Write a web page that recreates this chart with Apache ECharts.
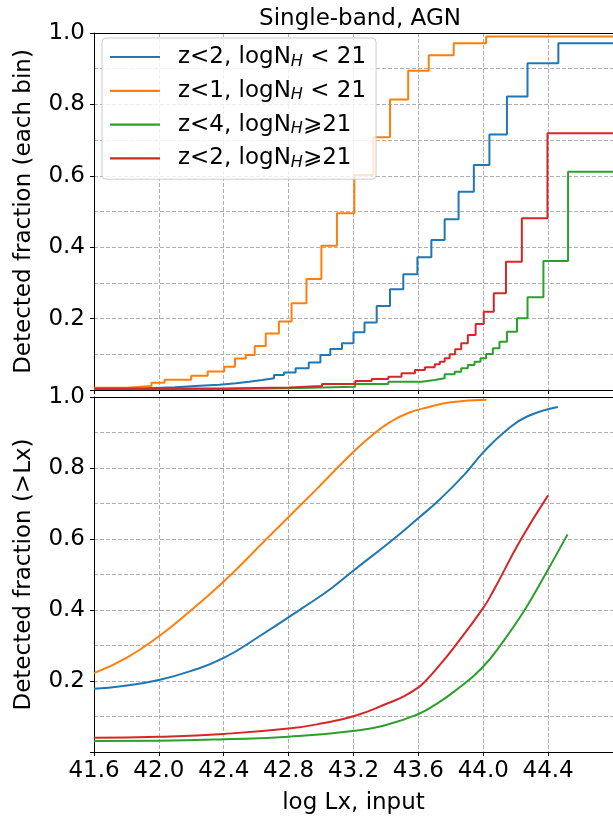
<!DOCTYPE html>
<html><head><meta charset="utf-8">
<script src="https://cdn.jsdelivr.net/npm/echarts@6/dist/echarts.min.js"></script>
<style>html,body{margin:0;padding:0;background:#fff}#c{width:613px;height:816px}</style>
</head><body><div id="c"></div>
<script>
// ---- data ----
const seriesNames = ['z<2, logN_H < 21', 'z<1, logN_H < 21', 'z<4, logN_H⩾21', 'z<2, logN_H⩾21'];
const colors = ['#1f77b4', '#ff7f0e', '#2ca02c', '#d62728'];
const titleText = 'Single-band, AGN';
const xName = 'log Lx, input';
const yNameTop = 'Detected fraction (each bin)';
const yNameBottom = 'Detected fraction (>Lx)';

// top panel: detected fraction per bin (bin edges, fraction in each bin)
const blueBinEdges = [41.6, 41.9, 42.1, 42.25, 42.373, 42.475, 42.556, 42.638, 42.710, 42.771, 42.843, 42.924, 42.996, 43.057, 43.129, 43.200, 43.268, 43.343, 43.425, 43.507, 43.594, 43.680, 43.762, 43.848, 43.942, 44.038, 44.146, 44.273, 44.463, 44.8];
const blueBinFrac = [0.004, 0.008, 0.012, 0.015, 0.019, 0.023, 0.028, 0.033, 0.042, 0.049, 0.061, 0.077, 0.098, 0.115, 0.131, 0.162, 0.189, 0.235, 0.282, 0.324, 0.372, 0.420, 0.478, 0.555, 0.630, 0.716, 0.822, 0.915, 0.971];
const orangeBinEdges = [41.6, 41.8, 41.954, 42.035, 42.199, 42.301, 42.403, 42.469, 42.536, 42.591, 42.659, 42.740, 42.818, 42.910, 43.002, 43.098, 43.205, 43.323, 43.425, 43.537, 43.664, 43.818, 44.018, 44.8];
const orangeBinFrac = [0.006, 0.011, 0.020, 0.029, 0.040, 0.052, 0.065, 0.088, 0.098, 0.123, 0.158, 0.192, 0.243, 0.311, 0.404, 0.495, 0.602, 0.708, 0.814, 0.894, 0.938, 0.971, 0.990];
const greenBinEdges = [41.6, 42.4, 42.80, 43.21, 43.415, 43.62, 43.70, 43.762, 43.824, 43.864, 43.905, 43.946, 43.983, 44.018, 44.059, 44.100, 44.146, 44.208, 44.273, 44.371, 44.523, 44.8];
const greenBinFrac = [0.003, 0.005, 0.009, 0.017, 0.023, 0.028, 0.033, 0.044, 0.051, 0.061, 0.070, 0.079, 0.089, 0.101, 0.117, 0.135, 0.163, 0.201, 0.260, 0.361, 0.611];
const redBinEdges = [41.6, 42.393, 42.802, 43.006, 43.211, 43.312, 43.415, 43.496, 43.579, 43.640, 43.701, 43.732, 43.762, 43.793, 43.827, 43.864, 43.905, 43.953, 44.003, 44.065, 44.140, 44.238, 44.396, 44.8];
const redBinFrac = [0.004, 0.007, 0.011, 0.017, 0.025, 0.031, 0.037, 0.047, 0.056, 0.064, 0.072, 0.079, 0.089, 0.100, 0.114, 0.131, 0.154, 0.185, 0.219, 0.271, 0.359, 0.481, 0.719];

// bottom panel: cumulative detected fraction (>Lx)
const blueCumX = [41.6, 41.78, 42.0, 42.19, 42.4, 42.62, 42.88, 43.06, 43.21, 43.415, 43.59, 43.74, 43.885, 44.0, 44.14, 44.27, 44.46];
const blueCumY = [0.178, 0.186, 0.203, 0.227, 0.265, 0.326, 0.404, 0.460, 0.515, 0.588, 0.655, 0.715, 0.782, 0.844, 0.905, 0.945, 0.972];
const orangeCumX = [41.6, 41.8, 42.0, 42.2, 42.4, 42.659, 42.965, 43.205, 43.312, 43.425, 43.537, 43.66, 43.8, 44.02];
const orangeCumY = [0.222, 0.265, 0.326, 0.400, 0.480, 0.598, 0.737, 0.848, 0.891, 0.929, 0.955, 0.971, 0.985, 0.992];
const greenCumX = [41.6, 42.0, 42.4, 42.8, 43.21, 43.415, 43.59, 43.7, 43.82, 43.99, 44.13, 44.25, 44.365, 44.52];
const greenCumY = [0.031, 0.032, 0.036, 0.043, 0.060, 0.078, 0.105, 0.132, 0.170, 0.236, 0.316, 0.396, 0.486, 0.613];
const redCumX = [41.6, 42.0, 42.4, 42.8, 43.0, 43.21, 43.415, 43.51, 43.6, 43.65, 43.7, 43.82, 44.0, 44.06, 44.23, 44.4];
const redCumY = [0.040, 0.043, 0.051, 0.066, 0.080, 0.102, 0.138, 0.157, 0.182, 0.203, 0.228, 0.295, 0.406, 0.452, 0.597, 0.723];

const xMin = 41.6, xMax = 44.8, xStep = 0.4;
const yMin = 0, yMax = 1, yStep = 0.2;

// ---- build ----
function stepPts(edges, vals) {
  const p = vals.map((v, i) => [edges[i], v]);
  p.push([edges[edges.length - 1], vals[vals.length - 1]]);
  return p;
}
function zip(xs, ys) { return xs.map((x, i) => [x, ys[i]]); }

const binSets = [[blueBinEdges, blueBinFrac], [orangeBinEdges, orangeBinFrac], [greenBinEdges, greenBinFrac], [redBinEdges, redBinFrac]];
const cumSets = [[blueCumX, blueCumY], [orangeCumX, orangeCumY], [greenCumX, greenCumY], [redCumX, redCumY]];

const FONT = 'DejaVu Sans';
const gridLine = { show: true, lineStyle: { color: '#b0b0b0', width: 1, type: [4, 2] } };
const spine = { show: true, lineStyle: { color: '#000', width: 1 } };

function xAxisDef(idx, showLabels) {
  return {
    type: 'value', gridIndex: idx, min: xMin, max: xMax, interval: xStep, position: 'bottom',
    axisLine: spine,
    axisTick: { show: true, length: 4, lineStyle: { color: '#000' } },
    axisLabel: {
      show: showLabels, fontFamily: FONT, fontSize: 23, color: '#000', margin: 8,
      showMaxLabel: false,
      formatter: v => (Math.abs(v - xMax) < 1e-6 ? '' : v.toFixed(1))
    },
    splitLine: gridLine,
    name: showLabels ? xName : '',
    nameLocation: 'middle', nameGap: 40,
    nameTextStyle: { fontFamily: FONT, fontSize: 23, color: '#000' }
  };
}
function topSpine(idx) {
  return {
    type: 'value', gridIndex: idx, min: xMin, max: xMax, interval: xStep, position: 'top',
    axisLine: spine, axisTick: { show: false }, axisLabel: { show: false }, splitLine: { show: false }
  };
}
function yAxisDef(idx, name) {
  return {
    type: 'value', gridIndex: idx, min: yMin, max: yMax, interval: yStep,
    axisLine: spine,
    axisTick: { show: true, length: 4, lineStyle: { color: '#000' } },
    minorTick: { show: false, splitNumber: 2 },
    minorSplitLine: gridLine,
    axisLabel: {
      fontFamily: FONT, fontSize: 23, color: '#000', margin: 9,
      formatter: v => (v < 1e-6 ? '' : v.toFixed(1))
    },
    splitLine: gridLine,
    name: name, nameLocation: 'middle', nameGap: 58, nameRotate: 90,
    nameTextStyle: { fontFamily: FONT, fontSize: 23, color: '#000' }
  };
}

const series = [];
binSets.forEach((s, i) => {
  series.push({
    name: seriesNames[i], type: 'line', xAxisIndex: 0, yAxisIndex: 0,
    data: stepPts(s[0], s[1]), step: 'end', symbol: 'none', showSymbol: false,
    lineStyle: { color: colors[i], width: 2 }, itemStyle: { color: colors[i] },
    z: 3 + (i === 3 ? 1 : 0), animation: false
  });
});
cumSets.forEach((s, i) => {
  series.push({
    name: seriesNames[i], type: 'line', xAxisIndex: 2, yAxisIndex: 1,
    data: zip(s[0], s[1]), smooth: 0.5, symbol: 'none', showSymbol: false,
    lineStyle: { color: colors[i], width: 2 }, itemStyle: { color: colors[i] },
    animation: false
  });
});

function legendRich(name) {
  const parts = name.split('_H');
  return '{a|' + parts[0] + '}{s|H}{a|' + parts[1] + '}';
}

const chart = echarts.init(document.getElementById('c'), null, { renderer: 'canvas' });
chart.setOption({
  backgroundColor: '#fff',
  animation: false,
  title: {
    text: titleText, left: 355, top: 3, textAlign: 'center',
    textStyle: { fontFamily: FONT, fontSize: 23, fontWeight: 'normal', color: '#000' }
  },
  grid: [
    { left: 94, top: 33, width: 522, height: 357 },
    { left: 94, top: 397, width: 522, height: 355 }
  ],
  xAxis: [xAxisDef(0, false), topSpine(0), xAxisDef(1, true), topSpine(1)],
  yAxis: [yAxisDef(0, yNameTop), yAxisDef(1, yNameBottom)],
  legend: {
    data: seriesNames.map(n => ({ name: n, icon: 'rect' })),
    orient: 'vertical', left: 102, top: 38,
    itemWidth: 50, itemHeight: 2.2, itemGap: 8.8,
    padding: [6.5, 10, 8.3, 8],
    backgroundColor: 'rgba(255,255,255,0.8)', borderColor: '#cccccc', borderWidth: 1, borderRadius: 4,
    formatter: legendRich,
    textStyle: {
      fontFamily: FONT, fontSize: 23, color: '#000', padding: [0, 0, 0, 13],
      rich: {
        a: { fontFamily: FONT, fontSize: 23, color: '#000', lineHeight: 27 },
        s: { fontFamily: FONT, fontSize: 16, fontStyle: 'italic', color: '#000', lineHeight: 27, padding: [9, 0, 0, 0] }
      }
    }
  },
  series: series
});
</script></body></html>
